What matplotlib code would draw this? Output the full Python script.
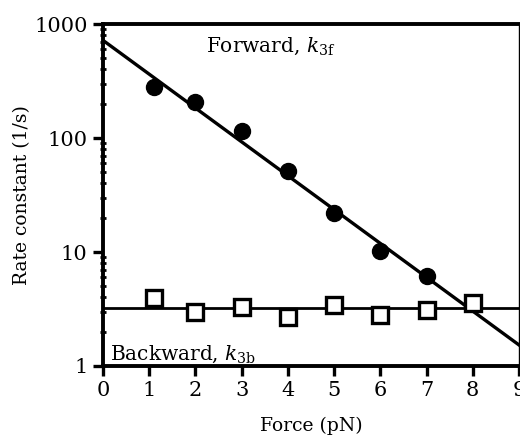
import matplotlib.pyplot as plt
import numpy as np

plt.rcParams['font.family'] = ['DejaVu Serif']
plt.rcParams['mathtext.fontset'] = 'dejavuserif'

# forward rate k3f (filled circles)
force_f = [1.1, 2, 3, 4, 5, 6, 7]
rate_f = [280, 205, 115, 51, 22, 10.2, 6.2]

# backward rate k3b (open squares)
force_b = [1.1, 2, 3, 4, 5, 6, 7, 8]
rate_b = [3.95, 2.98, 3.3, 2.7, 3.45, 2.8, 3.1, 3.55]

# fitted lines
fit_f0 = 720.0      # k3f at zero force
fit_f9 = 1.53       # k3f at 9 pN
fit_b = 3.23        # constant k3b

fig = plt.figure(figsize=(5.2, 4.37), dpi=100)
ax = fig.add_axes([0.198, 0.1625, 0.800, 0.7825])

xf = np.array([0, 9])
ax.plot(xf, [fit_f0, fit_f9], color='black', lw=2.4)
ax.plot(xf, [fit_b, fit_b], color='black', lw=2.0)
ax.plot(force_f, rate_f, 'o', color='black', ms=11.5)
ax.plot(force_b, rate_b, 's', mfc='white', mec='black', mew=2.4, ms=11)

ax.set_yscale('log')
ax.set_xlim(0, 9)
ax.set_ylim(1, 1000)
ax.set_xticks(range(10))
ax.set_yticks([1, 10, 100, 1000])
ax.set_yticklabels(['1', '10', '100', '1000'])

for s in ['left', 'top', 'bottom']:
    ax.spines[s].set_linewidth(2.8)
ax.spines['right'].set_linewidth(1.0)

ax.tick_params(axis='both', which='major', direction='out', length=7,
               width=2.4, labelsize=15, pad=4)
ax.tick_params(axis='y', which='minor', direction='inout', length=5, width=2)
ax.tick_params(axis='y', which='minor', labelleft=False)

ax.set_xlabel('Force (pN)', fontsize=13.5, labelpad=12)
ax.set_ylabel('Rate constant (1/s)', fontsize=13.5, labelpad=2)

ax.text(2.23, 640, r'Forward, $k_{3\mathrm{f}}$', fontsize=14.5, va='center')
ax.text(0.15, 1.28, r'Backward, $k_{3\mathrm{b}}$', fontsize=14.5, va='center')

fig.savefig('out.png', dpi=100)
